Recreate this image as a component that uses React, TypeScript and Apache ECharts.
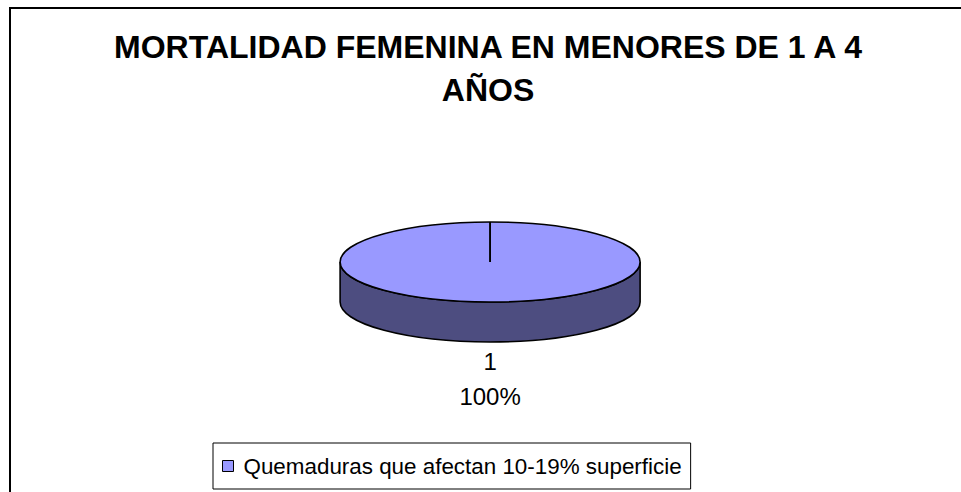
import React, { useEffect, useRef } from "react";
import * as echarts from "echarts";

const titleLines = ["MORTALIDAD FEMENINA EN MENORES DE 1 A 4", "AÑOS"];
const seriesName = "Quemaduras que afectan 10-19% superficie";
const categories = ["1"];
const values = [1];

const TOP_COLOR = "#9999FF";
const SIDE_COLOR = "#4D4D80";
const FONT = "'Liberation Sans', Arial, sans-serif";

export default function App() {
  const ref = useRef<HTMLDivElement>(null);
  useEffect(() => {
    if (!ref.current) return;
    const chart = echarts.init(ref.current, undefined, { renderer: "svg" });
    const total = values.reduce((a, b) => a + b, 0);
    const data = categories.map((c, i) => ({ name: c, value: [values[i]] }));
    chart.setOption({
      animation: false,
      backgroundColor: "#fff",
      title: {
        text: titleLines.join("\n"),
        left: 483,
        top: 20,
        textAlign: "center",
        textStyle: {
          fontFamily: FONT,
          fontSize: 32,
          fontWeight: "bold",
          color: "#000",
          lineHeight: 43,
        },
      },
      legend: {
        left: 213,
        top: 443,
        orient: "horizontal",
        data: [seriesName],
        borderColor: "#000",
        borderWidth: 1,
        padding: [11, 9, 11, 9],
        itemWidth: 11,
        itemHeight: 11,
        icon: "rect",
        itemStyle: { color: TOP_COLOR, borderColor: "#000", borderWidth: 1 },
        textStyle: {
          fontFamily: FONT,
          fontSize: 22.4,
          color: "#000",
          lineHeight: 24,
          padding: [0, 0, 0, 5],
        },
      },
      graphic: [
        {
          type: "rect",
          shape: { x: 10, y: 8, width: 1000, height: 600 },
          style: { fill: "none", stroke: "#000", lineWidth: 2 },
          silent: true,
          z: 100,
        },
      ],
      series: [
        {
          type: "custom",
          name: seriesName,
          coordinateSystem: "none",
          itemStyle: { color: TOP_COLOR },
          data,
          renderItem: (params: any, api: any) => {
            const w = api.getWidth();
            const cx = w * 0.51;
            const cy = 262;
            const rx = 150;
            const ry = 40;
            const d = 40;
            const v = api.value(0);
            const frac = v / total;
            const name = categories[params.dataIndex];
            const children: any[] = [];
            const sidePath =
              `M ${cx - rx} ${cy} L ${cx - rx} ${cy + d} ` +
              `A ${rx} ${ry} 0 0 0 ${cx + rx} ${cy + d} L ${cx + rx} ${cy} ` +
              `A ${rx} ${ry} 0 0 1 ${cx - rx} ${cy} Z`;
            children.push({
              type: "path",
              shape: { pathData: sidePath },
              style: { fill: SIDE_COLOR, stroke: "#000", lineWidth: 1.6 },
            });
            const topPath =
              `M ${cx - rx} ${cy} A ${rx} ${ry} 0 0 1 ${cx + rx} ${cy} ` +
              `A ${rx} ${ry} 0 0 1 ${cx - rx} ${cy} Z`;
            children.push({
              type: "path",
              shape: { pathData: topPath },
              style: { fill: TOP_COLOR, stroke: "#000", lineWidth: 1.6 },
            });
            const a0 = -Math.PI / 2;
            const a1 = a0 + frac * 2 * Math.PI;
            [a0, a1].forEach((a) => {
              children.push({
                type: "line",
                shape: {
                  x1: cx,
                  y1: cy,
                  x2: cx + rx * Math.cos(a),
                  y2: cy + ry * Math.sin(a),
                },
                style: { stroke: "#000", lineWidth: 1.6 },
              });
            });
            const pct = Math.round(frac * 100);
            children.push({
              type: "text",
              style: {
                text: `${name}\n${pct}%`,
                x: cx,
                y: 344,
                align: "center",
                verticalAlign: "top",
                font: `24px ${FONT}`,
                lineHeight: 35,
                fill: "#000",
              },
            });
            return { type: "group", children };
          },
        },
      ],
    });
    return () => chart.dispose();
  }, []);
  return (
    <div
      ref={ref}
      style={{ position: "fixed", left: 0, top: 0, width: 961, height: 492 }}
    />
  );
}
